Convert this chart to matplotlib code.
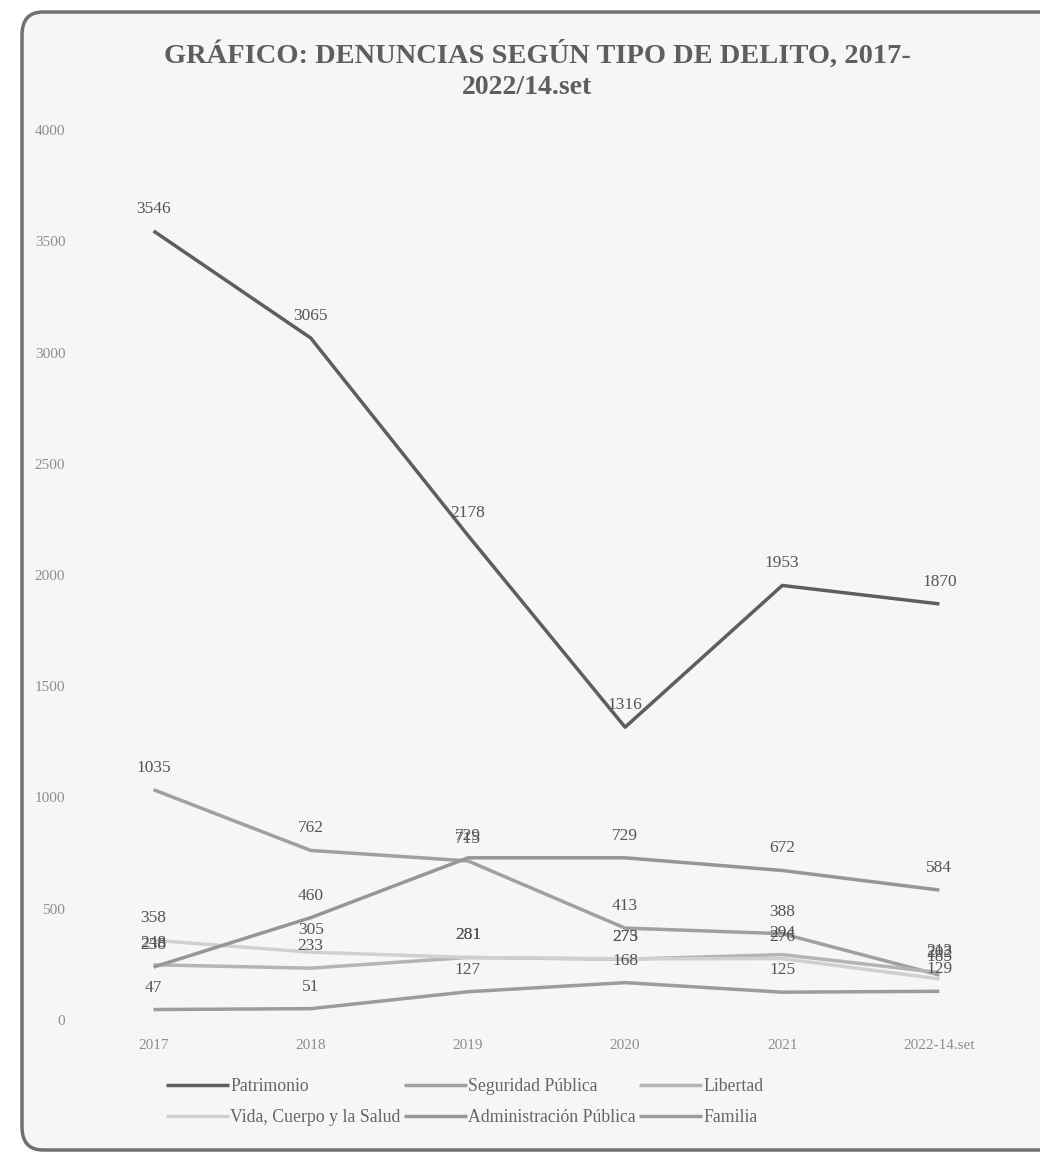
import matplotlib
matplotlib.use("Agg")
import matplotlib.pyplot as plt
from matplotlib.patches import FancyBboxPatch

plt.rcParams['font.family'] = ['Liberation Serif', 'DejaVu Serif']

years = ["2017", "2018", "2019", "2020", "2021", "2022-14.set"]
patrimonio = [3546, 3065, 2178, 1316, 1953, 1870]
seguridad_publica = [1035, 762, 715, 413, 388, 202]
libertad = [248, 233, 281, 273, 294, 213]
vida_cuerpo_salud = [358, 305, 281, 275, 276, 185]
administracion_publica = [238, 460, 729, 729, 672, 584]
familia = [47, 51, 127, 168, 125, 129]

series_names = ["Patrimonio", "Seguridad Pública", "Libertad",
                "Vida, Cuerpo y la Salud", "Administración Pública", "Familia"]
series_values = [patrimonio, seguridad_publica, libertad,
                 vida_cuerpo_salud, administracion_publica, familia]
colors = ["#5e5e5e", "#a0a0a0", "#b4b4b4", "#d0d0d0", "#969696", "#9c9c9c"]

W, H = 1040, 1159
fig = plt.figure(figsize=(W / 100, H / 100), dpi=100)
fig.patch.set_facecolor("white")

# rounded frame of the scanned chart
frame = FancyBboxPatch((22 / W, 9 / H), (W + 30 - 22) / W, (1147 - 9) / H,
                       boxstyle="round,pad=0,rounding_size=0.02",
                       transform=fig.transFigure, facecolor="#f6f6f6",
                       edgecolor="#707070", linewidth=2.5, zorder=-10)
fig.patches.append(frame)

ax = fig.add_axes([75 / W, (H - 1020) / H, (1018 - 75) / W, (1020 - 130) / H])
ax.set_facecolor("none")
ax.set_zorder(5)

x = list(range(len(years)))
handles = []
for name, vals, c in zip(series_names, series_values, colors):
    h, = ax.plot(x, vals, color=c, lw=2.5, label=name, solid_capstyle="butt")
    handles.append(h)
    for xi, v in zip(x, vals):
        ax.annotate(str(v), (xi, v), xytext=(0, 22), textcoords="offset pixels",
                    ha="center", va="center", fontsize=12.5, color="#555555")

ax.set_xlim(-0.5, len(years) - 0.5)
ax.set_ylim(0, 4000)
ax.set_yticks(range(0, 4001, 500))
ax.set_xticks(x)
ax.set_xticklabels(years)
for s in ax.spines.values():
    s.set_visible(False)
ax.tick_params(axis="both", length=0, colors="#8e8e8e", labelsize=11)
ax.tick_params(axis="x", pad=14)
ax.tick_params(axis="y", pad=7)

fig.text(537 / W, (H - 55) / H, "GRÁFICO: DENUNCIAS SEGÚN TIPO DE DELITO, 2017-",
         ha="center", va="center", fontsize=20.5, fontweight="bold", color="#5e5e5e")
fig.text(527 / W, (H - 88) / H, "2022/14.set",
         ha="center", va="center", fontsize=20, fontweight="bold", color="#5e5e5e")

order = [0, 3, 1, 4, 2, 5]
leg = fig.legend([handles[i] for i in order], [series_names[i] for i in order],
                 loc="center", bbox_to_anchor=(465 / W, (H - 1102) / H), ncol=3,
                 frameon=False, fontsize=12.8, handlelength=3.5, handletextpad=0.1,
                 columnspacing=0.2, labelspacing=0.8)
for t in leg.get_texts():
    t.set_color("#666666")

fig.savefig("out.png", dpi=100, facecolor=fig.get_facecolor())
